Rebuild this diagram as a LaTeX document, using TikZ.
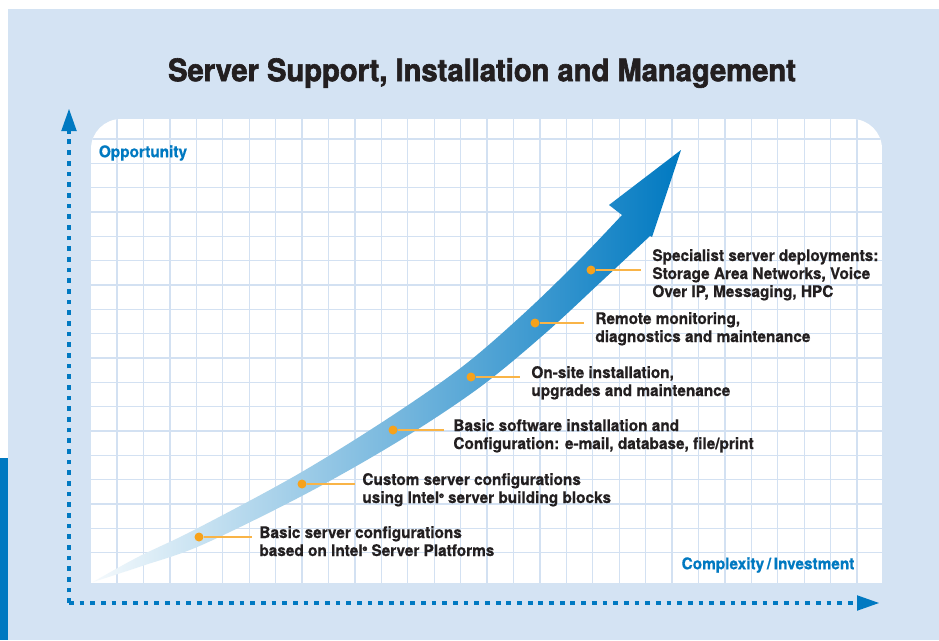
\documentclass[tikz,border=0pt]{standalone}
\usepackage{fontspec}
\setmainfont{TeX Gyre Heros}
\newfontfamily\condfont[FakeStretch=0.96,FakeBold=0.6]{TeX Gyre Heros}
\newfontfamily\titlefont[FakeStretch=0.94,FakeBold=2]{TeX Gyre Heros}
\usepackage{tikz}
\usetikzlibrary{positioning,arrows.meta}

\definecolor{bgblue}{HTML}{D4E3F3}
\definecolor{intelblue}{HTML}{0079C1}
\definecolor{gridblue}{HTML}{D3E1F2}
\definecolor{dotorange}{HTML}{F7A21B}
\definecolor{lineorange}{HTML}{F9B447}
\definecolor{textgray}{HTML}{231F20}

\newcommand{\regmark}{\raisebox{5pt}{\fontsize{6.5}{6.5}\selectfont ®}}

\begin{document}
\begin{tikzpicture}[x=1pt,y=-1pt,
	dot/.style={circle,fill=dotorange,inner sep=0pt,minimum size=9pt},
	leader/.style={lineorange,line width=1.5pt},
	lbl/.style={align=left,inner sep=0pt,text=textgray,anchor=base west,font=\condfont\bfseries\fontsize{16}{18}\selectfont},
	axislbl/.style={inner sep=0pt,text=intelblue,font=\condfont\bfseries\fontsize{16}{18}\selectfont},
	axis/.style={intelblue,line width=4.7pt,dash pattern=on 4.7pt off 5.97pt},
	gridline/.style={gridblue,line width=1.3pt},
	]
	\useasboundingbox (0,0) rectangle (939,640);
	\fill[bgblue] (8,9) rectangle (939,640);
	\fill[intelblue] (0,458) rectangle (8,640);
	
	\node[font=\titlefont\bfseries\fontsize{31}{33}\selectfont,text=textgray] (title) at (482,73) {Server Support, Installation and Management};
	
	% chart panel
	\begin{scope}
		\clip[rounded corners=30pt] (91,119) rectangle (882,700);
		\fill[white] (91,119) rectangle (882,583);
		\foreach \i in {0,...,28}
			\draw[gridline] ({117+26.43*\i},119) -- ({117+26.43*\i},583);
		\foreach \j in {0,...,17}
			\draw[gridline] (91,{139+24.33*\j}) -- (882,{139+24.33*\j});
	\end{scope}
	
	% axes
	\coordinate (O) at (69,603);
	\coordinate (ytip) at (69,108);
	\coordinate (xtip) at (880,603);
	\draw[axis,-{Triangle[length=23pt,width=14pt]}] (O) -- (ytip);
	\draw[axis,-{Triangle[length=23pt,width=14pt]}] (O) -- (xtip);
	
	\node[axislbl] (opp) at (143,153) {Opportunity};
	\node[axislbl] (cmp) at (768,565) {Complexity\,/\,Investment};
	
	% growth arrow
	\shade[left color=white!90!intelblue!40,middle color=intelblue!55!white,right color=intelblue]
		plot[smooth,tension=0.55] coordinates {(93,582) (138,557) (195.5,529.3) (296.9,474.8) (386.3,419.5) (462.9,366.2) (525.3,312.2) (579.8,259.3) (622,215)}
		-- (609,205) -- (681,150) -- (652,237)
		-- plot[smooth,tension=0.55] coordinates {(650,236) (602.2,280.7) (544.7,333.8) (479.1,387.8) (399.7,440.5) (307.1,493.2) (202.5,544.7) (142,566) (93,582)}
		-- cycle;
	
	\node[dot] (d1) at (199,537) {};
	\node[dot] (d2) at (302,484) {};
	\node[dot] (d3) at (393,430) {};
	\node[dot] (d4) at (471,377) {};
	\node[dot] (d5) at (535,323) {};
	\node[dot] (d6) at (591,270) {};
	
	% base anchor sits on the last line
	\node[lbl,right=55.5pt of d1,anchor=base west,yshift=-19pt] (l1) {Basic server configurations\\based on Intel\regmark\ Server Platforms};
	\node[lbl,right=55.5pt of d2,anchor=base west,yshift=-19pt] (l2) {Custom server configurations\\using Intel\regmark\ server building blocks};
	\node[lbl,right=55.5pt of d3,anchor=base west,yshift=-19pt] (l3) {Basic software installation and\\Configuration: e-mail, database, file/print};
	\node[lbl,right=55.5pt of d4,anchor=base west,yshift=-19pt] (l4) {On-site installation,\\upgrades and maintenance};
	\node[lbl,right=55.5pt of d5,anchor=base west,yshift=-19pt] (l5) {Remote monitoring,\\diagnostics and maintenance};
	\node[lbl,right=56.5pt of d6,anchor=base west,yshift=-27pt] (l6) {Specialist server deployments:\\Storage Area Networks, Voice\\Over IP, Messaging, HPC};
	
	\draw[leader] (d1.east) -- ([xshift=-7pt]l1.west |- d1.center);
	\draw[leader] (d2.east) -- ([xshift=-7pt]l2.west |- d2.center);
	\draw[leader] (d3.east) -- ([xshift=-9pt]l3.west |- d3.center);
	\draw[leader] (d4.east) -- ([xshift=-11pt]l4.west |- d4.center);
	\draw[leader] (d5.east) -- ([xshift=-11pt]l5.west |- d5.center);
	\draw[leader] (d6.east) -- ([xshift=-11pt]l6.west |- d6.center);
\end{tikzpicture}
\end{document}
